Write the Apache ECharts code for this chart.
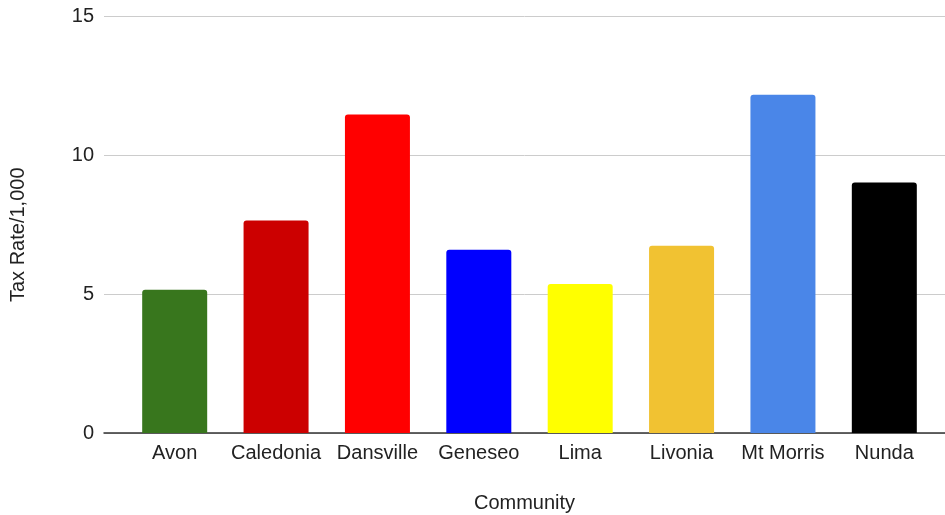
<!DOCTYPE html>
<html>
<head>
<meta charset="utf-8">
<script src="https://cdn.jsdelivr.net/npm/echarts@6/dist/echarts.min.js"></script>
<style>
  html, body { margin: 0; padding: 0; background: #fff; }
  #main { width: 945px; height: 515px; }
</style>
</head>
<body>
<div id="main"></div>
<script>
var communities = ["Avon", "Caledonia", "Dansville", "Geneseo", "Lima", "Livonia", "Mt Morris", "Nunda"];
var taxRates = [5.16, 7.65, 11.47, 6.6, 5.37, 6.74, 12.18, 9.02];
var barColors = ["#38761d", "#cc0000", "#ff0000", "#0000ff", "#ffff00", "#f1c232", "#4a86e8", "#000000"];
var yTicks = [0, 5, 10, 15];

var font = "Liberation Sans, Arial, sans-serif";
var chart = echarts.init(document.getElementById("main"));

var option = {
  animation: false,
  textStyle: { fontFamily: font },
  grid: [
    // frame: gridlines, axis line, titles
    { left: 104, right: 0, top: 16.5, bottom: 82, outerBoundsMode: "none" },
    // bars, inset like the original
    { left: 124, right: 10, top: 16.5, bottom: 82, outerBoundsMode: "none" }
  ],
  xAxis: [
    {
      gridIndex: 0,
      type: "category",
      data: [""],
      name: "Community",
      nameLocation: "middle",
      nameGap: 60,
      nameTextStyle: { fontSize: 20, color: "#222", fontFamily: font },
      axisLine: { show: true, lineStyle: { color: "#333", width: 1.5 } },
      axisTick: { show: false },
      axisLabel: { show: false }
    },
    {
      gridIndex: 1,
      type: "category",
      data: communities,
      axisLine: { show: false },
      axisTick: { show: false },
      axisLabel: { fontSize: 20, color: "#222", margin: 10, fontFamily: font, interval: 0 }
    }
  ],
  yAxis: [
    {
      gridIndex: 0,
      type: "value",
      min: yTicks[0],
      max: yTicks[yTicks.length - 1],
      interval: 5,
      name: "Tax Rate/1,000",
      nameLocation: "middle",
      nameGap: 76,
      nameTextStyle: { fontSize: 20, color: "#222", fontFamily: font, padding: [0, 20, 0, 0] },
      axisLine: { show: false },
      axisTick: { show: false },
      axisLabel: { fontSize: 20, color: "#222", margin: 10, fontFamily: font },
      splitLine: { lineStyle: { color: "#cccccc", width: 1 } }
    },
    {
      gridIndex: 1,
      type: "value",
      min: yTicks[0],
      max: yTicks[yTicks.length - 1],
      interval: 5,
      show: false,
      splitLine: { show: false }
    }
  ],
  series: [
    {
      type: "bar",
      xAxisIndex: 1,
      yAxisIndex: 1,
      barWidth: 65,
      data: taxRates.map(function (v, i) {
        return { value: v, itemStyle: { color: barColors[i] } };
      }),
      itemStyle: { borderRadius: [3, 3, 0, 0] }
    }
  ]
};

chart.setOption(option);
</script>
</body>
</html>
